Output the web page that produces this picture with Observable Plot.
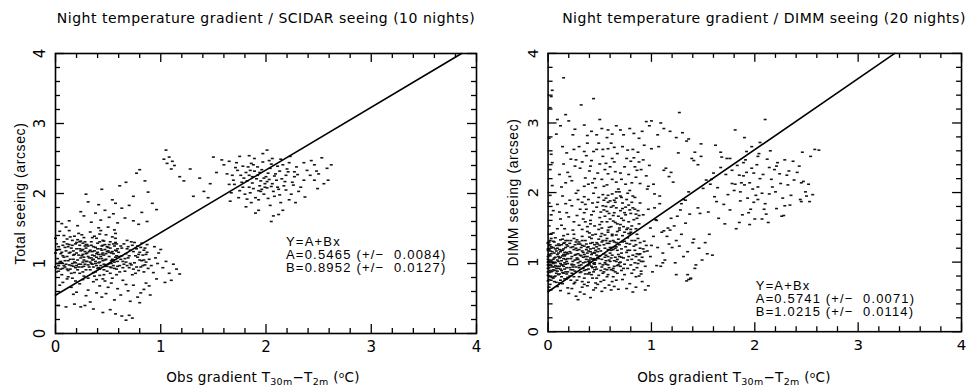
<!DOCTYPE html>
<html><head><meta charset="utf-8">
<script src="https://cdn.jsdelivr.net/npm/d3@7"></script>
<script src="https://cdn.jsdelivr.net/npm/@observablehq/plot@0.6"></script>
<style>
body{margin:0;background:#fff;}
#wrap{position:relative;width:967px;height:388px;overflow:hidden;font-family:"DejaVu Sans",sans-serif;color:#000;}
.title{position:absolute;top:10px;font-size:14px;letter-spacing:0.5px;white-space:nowrap;transform:translateX(-50%);}
.xlab{position:absolute;top:369px;font-size:13.5px;letter-spacing:0.3px;white-space:nowrap;transform:translateX(-50%);}
.xlab sub{font-size:9.5px;vertical-align:-3px;}
.xlab sup{font-size:9px;vertical-align:4px;}
.panel{position:absolute;top:40px;}
</style>
</head><body>
<div id="wrap">
  <div class="title" style="left:266px">Night temperature gradient / SCIDAR seeing (10 nights)</div>
  <div class="title" style="left:764px">Night temperature gradient / DIMM seeing (20 nights)</div>
  <div class="panel" id="p1" style="left:0px"></div>
  <div class="panel" id="p2" style="left:480px"></div>
  <div class="xlab" style="left:263px">Obs gradient T<sub>30m</sub>−T<sub>2m</sub> (<sup>o</sup>C)</div>
  <div class="xlab" style="left:734px">Obs gradient T<sub>30m</sub>−T<sub>2m</sub> (<sup>o</sup>C)</div>
</div>
<script>
// Tick values
const xMajor = [0, 1, 2, 3, 4];
const xMinor = [0.2,0.4,0.6,0.8,1.2,1.4,1.6,1.8,2.2,2.4,2.6,2.8,3.2,3.4,3.6,3.8];
const yMajor = [0, 1, 2, 3, 4];
const yMinor = [0.2,0.4,0.6,0.8,1.2,1.4,1.6,1.8,2.2,2.4,2.6,2.8,3.2,3.4,3.6,3.8];

// Fit parameters
const scidarFit = {A: 0.5465, B: 0.8952, dA: "0.0084", dB: "0.0127"};
const dimmFit = {A: 0.5741, B: 1.0215, dA: "0.0071", dB: "0.0114"};

// Scatter points: "gradient,seeing" in hundredths
const scidarPoints = `
3,97 17,112 8,131 26,88 12,104 1,119 22,95 29,127 6,84 14,138 19,101 27,109 4,146 11,92 24,118 16,79 9,123 21,134 28,99 2,107 13,115 25,141 7,93 18,87 23,126 10,152 15,97 29,103 5,114 20,121 27,82 0,136 12,90 26,129 8,109 17,96 22,143 3,124 14,106 28,117 11,128 19,75 6,101 24,99 1,88 16,133 25,111 9,95 21,105 13,147 29,91 4,120 18,113 27,137 7,126 23,86 10,99 15,122 2,93 26,102 20,130 12,81 17,118 28,125 5,103 22,112 14,92 8,140 25,95 19,128 0,115 11,110 24,132 16,100 29,114 3,89 20,97 13,127 27,105 6,116 18,139 9,104 23,121 1,128 15,86 26,113 10,118 21,91 28,131 4,102 12,124 17,106 25,119 7,111 22,99 14,116 19,94 2,100 24,108 11,135 27,96 16,126 5,92 20,115 8,97 29,122 13,98 23,131 18,102 0,95 26,120
32,108 47,96 38,123 55,114 41,101 34,131 58,92 44,119 36,87 51,127 39,109 57,136 31,98 46,112 53,104 42,142 35,117 49,89 59,121 33,102 45,133 52,95 37,111 56,125 40,93 48,106 54,138 30,115 43,97 50,118 38,100 57,109 34,126 46,84 52,131 41,113 59,103 36,95 49,124 31,110 55,97 44,107 39,136 47,120 33,91 53,115 42,102 58,128 35,105 50,99 45,126 37,118 56,102 40,129 32,95 48,114 54,106 43,121 38,88 51,110 57,119 30,103 46,132 41,94 36,124 52,101 44,113 59,96 34,108 49,117 55,128 39,97 47,105 33,119 53,94 42,131 58,111 35,99 50,123 45,104 37,139 56,93 40,116 48,98 31,125 54,117 43,110 38,103 52,122 46,99 57,130 41,107 35,112 49,96 44,125 32,117 55,105 39,114 47,127 53,100 36,106 51,116 42,92 58,118 34,100 45,115 40,121
33,145 48,141 56,148 41,151 37,82 52,86 45,78 58,84 31,79 43,147 50,152 39,77 54,79 47,75 35,137 57,143 42,83 60,110 30,127 46,91
62,106 77,95 68,121 83,112 71,100 65,128 88,93 74,117 66,89 81,123 69,108 86,102 61,97 76,111 84,119 72,131 67,114 79,90 63,122 85,98 73,126 80,105 64,103 87,116 70,94 78,109 82,129 60,116 75,101 89,106 68,97 84,88 71,119 62,125 77,121 66,107 83,97 73,84 80,116 64,94 87,127 69,124 75,130 61,88 82,104 70,111 86,113 65,99 79,113 74,92 68,133 84,105 72,98 78,125 63,111 81,95 67,102 76,86 85,122
91,97 95,108 93,87 98,115 102,94 96,78 105,103 108,86 112,99 115,92 118,85 100,120 94,124 110,76 104,73 97,100
7,73 15,66 23,71 31,62 36,74 42,68 48,57 53,72 59,64 64,76 69,61 74,69 81,58 86,72 20,59 29,54 44,52 56,48 62,55 71,46 78,52 84,63 11,78 26,77 39,58 50,66 67,70 89,68 4,69 17,56
3,40 10,38 18,42 24,38 28,40 36,35 45,30 52,34 57,28 63,25 67,19 70,26 73,22 80,44 90,55 33,45
6,157 13,161 21,154 27,168 34,159 38,172 43,162 47,176 51,166 55,171 59,158 63,179 66,165 70,183 74,161 79,156 82,173 87,160 24,174 41,184 31,188 57,186
29,199 44,206 54,191 61,211 67,216 74,196 77,229 80,234 85,218 88,202 92,186 96,177
103,249 106,243 105,262 108,252 111,246 113,240 110,235 122,218 131,196 137,222 141,203 147,214 150,252 153,230 158,248 145,194 128,235 118,224
191,221 204,236 178,209 213,198 186,243 199,214 168,226 221,231 195,203 182,218 208,225 174,194 226,212 189,232 201,208 216,241 171,237 193,191 206,214 184,226 219,205 197,245 210,219 177,216 230,227 188,207 202,229 165,213 224,199 192,238 185,201 213,232 198,222 172,244 207,203 181,230 236,219 194,211 218,217 176,226 203,247 187,215 229,238 196,206 211,209 167,201 200,224 183,238 222,244 190,194 209,228 175,204 233,209 194,230 215,221 186,187 205,242 179,222 242,226 198,199 220,235 170,213 189,250 212,206 201,217 227,224 184,209 246,219 196,234 208,196 163,228 217,211 192,226 180,199 239,233 203,220 188,241 214,187 173,233 199,209 225,216 182,192 250,228 195,218 206,250 178,239 231,203 187,224 219,226 202,193 211,239 169,219 246,241 185,233 193,204 227,231 205,210 258,236 175,253 197,257 214,249 243,247 255,214 262,241 237,195 249,207 228,187 160,241 166,189 216,176 204,183 181,181 253,251 236,244 222,191 193,176 207,168 248,232 259,219 165,246 223,253 201,262 184,254
205,160 212,170 190,172
`;

const dimmPoints = `
4,87 13,102 1,118 18,76 9,94 6,129 15,111 2,68 11,83 19,123 7,99 3,134 16,90 12,115 0,104 8,71 17,97 5,121 14,85 10,108 1,92 19,131 6,79 13,125 3,112 18,101 9,65 15,94 0,127 11,118 7,88 16,109 2,97 12,74 19,86 5,104 14,133 8,116 4,93 17,121 10,82 1,110 13,96 6,72 18,114 3,86 15,127 9,103 0,81 11,94 16,76 7,119 12,107 2,125 19,98 5,89 14,117 8,84 17,131 4,100 10,126 1,75 15,105 6,113 13,88 0,96 18,92 11,70 3,122 9,111 16,99 7,80 12,132 2,103 19,112 14,96 5,77 17,86 8,124 10,91 4,115 13,79 1,101 15,119 6,93 18,125 11,106 0,117 9,87 16,128 3,95 12,98 7,107 14,69 2,88 19,105 5,130 10,113 17,104 8,91 1,129 13,117 4,78 15,84 11,124 6,106 18,83 0,100 9,120 16,114 3,74 12,90 7,95 14,109 2,116 19,78 5,98 10,101 17,111
0,73 1,85 0,91 2,79 1,124 0,108 2,96 1,64 0,119 2,131 3,102 1,111 0,86 2,109 1,95 0,128
27,93 38,108 22,121 44,86 31,101 25,134 41,115 35,77 29,112 43,128 23,97 37,89 33,124 40,103 21,80 30,118 42,94 26,110 36,131 24,89 39,122 28,74 34,99 45,113 22,105 32,86 41,127 25,96 37,118 30,92 43,104 27,129 35,111 23,84 40,136 29,99 33,72 44,120 21,115 38,95 26,103 31,126 42,82 24,122 36,100 28,117 39,90 32,109 45,97 22,131 34,114 41,106 25,79 30,95 37,126 43,113 23,108 35,88 27,120 40,99 33,131 21,92 29,126 44,105 26,87 38,121 31,110 42,134 24,101 36,83 28,106 39,116 32,96 45,125 22,113 34,91 41,100 25,118 37,104 30,129 43,92 27,111 35,123 23,96 40,85 29,104 33,116 44,98 21,127 38,113 26,125 31,85 42,111 24,93 36,108 28,132 39,101 32,121 45,89 34,107 22,89 41,119
23,62 31,57 38,66 44,60 27,51 35,54 41,49 25,69 33,64 29,46 20,55 46,63 39,71
52,104 63,91 47,122 68,111 56,97 49,133 61,117 54,86 66,128 58,108 46,93 64,102 51,116 69,125 57,89 48,107 62,138 55,120 67,95 53,131 60,101 45,114 65,86 50,98 59,127 63,118 47,90 56,110 68,133 52,93 61,106 54,125 66,101 49,119 58,96 64,129 46,103 57,134 69,108 51,88 62,121 55,99 47,128 60,113 67,117 53,84 65,107 50,124 59,92 48,115 63,131 56,102 68,96 52,129 61,89 54,112 66,122 45,99 58,118 49,105 64,94 57,127 62,110 51,137 67,104 53,96 60,130 46,117 65,120 55,107 69,99 48,126 59,103 63,88 50,109 56,131
48,68 55,63 62,72 68,61 52,58 59,67 66,74 47,77 64,65 57,79 51,72
74,97 86,112 79,126 92,101 71,119 83,89 77,135 89,120 73,106 81,131 94,94 76,114 88,103 72,129 84,117 90,87 78,108 85,125 70,100 93,115 80,96 87,134 75,122 91,107 82,110 73,91 89,128 77,103 84,99 71,113 95,124 79,117 86,92 74,130 92,119 81,104 88,111 76,127 83,123 70,94 90,101 78,141 85,108 93,130 72,138 87,98 80,143
72,75 79,69 85,64 91,72 76,62 88,80 82,57 94,60 97,66 74,82
26,71 43,77 58,82 71,88 35,68 49,81 63,79 81,84 19,63 54,74 67,84 39,83 85,79 12,59 30,79 46,70 61,60 77,91 90,83 22,74
55,90 40,96 71,107 28,104 60,121 47,110 84,131 33,137 66,139 19,140 52,141 77,117 43,139 89,112 25,140 58,146 38,144 69,149 15,138 49,147 5,142 9,148 13,153 7,135 3,141
12,162 18,171 25,158 31,176 9,183 21,189 28,167 35,171 16,148 23,181 30,153 14,195 27,199 20,165 33,186 11,172 24,146 29,190 17,184 36,158
52,158 67,144 74,171 58,186 81,152 63,167 47,179 71,193 86,163 55,139 78,182 61,151 69,201 84,176 50,164 76,147 64,189 88,155 57,173 73,160 45,152 82,195 66,178 53,197 79,141 60,162 89,185 70,154 48,186 75,168 62,140 85,148 56,180 72,185 80,170 65,157 51,172 77,199 68,166 59,150 87,174 54,189 74,143 63,181 41,160 83,161 58,196 70,174 92,168 46,140 78,158 66,192 55,166 81,186 61,179 73,151 49,193 86,140 64,171 57,158 76,190 69,146 53,181 84,193 60,188 71,163 44,173 79,175 67,155 52,149 88,167 62,198 75,179 58,143 82,178 65,186 50,154 70,195 77,149 56,192 85,169 63,159 43,185 72,177 59,170 80,147 66,201 54,175
38,151 42,168 36,183 40,142 34,162 39,190 44,199 37,176 33,147 41,155 35,194
23,217 41,238 57,211 78,226 35,259 64,244 89,213 48,228 15,241 72,266 29,203 53,252 84,237 62,219 38,271 95,224 19,229 46,207 76,249 58,263 31,235 68,205 87,258 42,246 25,262 81,214 55,233 13,208 70,228 49,271 36,221 92,247 60,237 27,247 79,203 44,259 66,215 18,257 86,232 52,219 33,244 74,237 21,223 61,271 97,209 39,212 82,262 50,241 67,256 11,226 45,220 75,212 30,266 58,227 88,244 40,231 64,265 17,214 93,268 54,209 80,245 35,209 71,219 26,238 47,262 85,222 62,249 14,266 56,242 90,233 37,253 77,261 22,248 65,230 43,214 83,250
15,365 4,347 3,338 2,322 9,305 32,326 44,335 17,312 20,303 26,291 38,282 47,283 52,292 50,305 53,262 58,290 62,284 70,290 66,296 79,292 83,285 95,302 98,296 42,288 8,284 12,296 35,297 57,279 73,283 88,278 100,303 91,288 24,283
1,152 3,168 1,185 4,210 2,233 3,255 1,278 2,196 5,174 4,243
101,86 113,103 106,121 124,131 109,94 118,146 131,108 104,161 127,123 138,77 115,137 142,91 122,152 135,115 147,170 111,99 152,128 129,184 156,140 143,96
103,198 121,215 112,232 139,249 107,266 133,189 150,206 117,223 145,240 126,257 134,274 108,195 157,212 119,229 141,246 100,263 136,201 153,218 114,235 148,252
105,160 128,175 110,143 137,169 120,121 145,178 102,137 131,190 116,149 154,112 125,166 140,128 108,184 149,103 133,156 136,75 159,110 119,163 146,120 112,145
106,283 112,292 118,288 124,279 130,286 136,277 142,258 148,270 127,315 109,300 105,95 111,113 117,126 123,99 129,140 135,82 141,133 134,73 138,76 124,82
97,176 99,149 96,205 102,212 98,239 103,178 100,124 96,116 99,108
163,187 195,214 178,232 211,169 186,201 224,227 171,155 203,190 189,243 217,208 158,219 235,196 196,176 208,226 181,212 229,181 192,259 214,198 167,236 247,216 200,162 185,225 222,243 174,197 241,229 198,205 210,184 155,172 232,211 188,168 219,233 176,249 205,220 193,192 249,201 164,207 227,192 183,239 213,157 199,228 237,245 170,183 207,199 190,211 226,166 182,148 244,190 202,240 160,228 216,219 195,154 229,247 178,213 209,176 186,188 234,182 197,235 252,212 165,163 220,201 189,224 203,208 238,218 172,226 212,248 194,171 256,197 180,203 225,213 199,186 168,251 243,238 207,162 185,157 221,177 192,229 176,175 231,225 201,196 214,236 187,214 245,187 161,194 204,256
246,258 254,252 258,262 250,195 253,187 245,214 228,167 210,305 181,290 190,279 205,272 162,268 167,258 173,249 191,247 197,266 203,252 215,260 221,238 233,231 262,261
`;

function parsePoints(s) {
  return s.trim().split(/\s+/).map(p => {
    const [a, b] = p.split(",");
    return {x: +a / 100, y: +b / 100};
  });
}

// small horizontal dash, like the plotted samples of the original
const dash = {draw(ctx) { ctx.rect(-1.5, -0.8, 3, 1.6); }};

function panel({points, fit, ylabel, ml, mr, annX, annY}) {
  const W = 490, H = 330, mt = 13, mb = 37;
  const fw = W - ml - mr, fh = H - mt - mb;
  const data = parsePoints(points);
  const xEnd = Math.min(4, (4 - fit.A) / fit.B);
  const line = [{x: 0, y: fit.A}, {x: xEnd, y: fit.A + fit.B * xEnd}];
  const ann = `Y=A+Bx\nA=${fit.A.toFixed(4)} (+/−  ${fit.dA})\nB=${fit.B.toFixed(4)} (+/−  ${fit.dB})`;
  const tickStyle = {stroke: "black", strokeWidth: 1.3};
  const svg = Plot.plot({
    width: W, height: H,
    marginLeft: ml, marginRight: mr, marginTop: mt, marginBottom: mb,
    x: {domain: [0, 4]},
    y: {domain: [0, 4], axis: null},
    style: {fontFamily: "DejaVu Sans", background: "transparent", overflow: "visible"},
    marks: [
      Plot.dot(data, {x: "x", y: "y", r: 1, symbol: dash, fill: "#151515", stroke: null}),
      Plot.line(line, {x: "x", y: "y", stroke: "black", strokeWidth: 1.6}),
      Plot.frame({stroke: "black", strokeWidth: 1.6}),
      Plot.tickX(xMajor, {x: d => d, insetTop: fh - 9, ...tickStyle}),
      Plot.tickX(xMinor, {x: d => d, insetTop: fh - 5, ...tickStyle}),
      Plot.tickX(xMajor, {x: d => d, insetBottom: fh - 9, ...tickStyle}),
      Plot.tickX(xMinor, {x: d => d, insetBottom: fh - 5, ...tickStyle}),
      Plot.tickY(yMajor, {y: d => d, insetRight: fw - 9, ...tickStyle}),
      Plot.tickY(yMinor, {y: d => d, insetRight: fw - 5, ...tickStyle}),
      Plot.tickY(yMajor, {y: d => d, insetLeft: fw - 9, ...tickStyle}),
      Plot.tickY(yMinor, {y: d => d, insetLeft: fw - 5, ...tickStyle}),
      Plot.axisX(xMajor, {tickSize: 0, tickPadding: 8, fontSize: 15, label: null, tickFormat: d => String(d)}),
      Plot.text(yMajor, {y: d => d, text: d => String(d), frameAnchor: "left", rotate: -90, dx: -15, textAnchor: "middle", fontSize: 15}),
      Plot.text([ylabel], {text: d => d, frameAnchor: "left", rotate: -90, dx: -35, textAnchor: "middle", fontSize: 14, fontFamily: "Liberation Sans"}),
      Plot.text([ann], {x: annX, y: annY, text: d => d, textAnchor: "start", lineAnchor: "top", lineHeight: 1.02, fontSize: 13, fontFamily: "Liberation Sans"})
    ]
  });
  svg.querySelectorAll("g[font-family='Liberation Sans']").forEach(g => {
    g.setAttribute("letter-spacing", g.getAttribute("font-size") === "13" ? "1.2" : "0.6");
  });
  return svg;
}

document.getElementById("p1").append(panel({
  points: scidarPoints, fit: scidarFit, ylabel: "Total seeing (arcsec)",
  ml: 55, mr: 14, annX: 2.19, annY: 1.39
}));
document.getElementById("p2").append(panel({
  points: dimmPoints, fit: dimmFit, ylabel: "DIMM seeing (arcsec)",
  ml: 68, mr: 6, annX: 2.01, annY: 0.74
}));
</script>
</body></html>
